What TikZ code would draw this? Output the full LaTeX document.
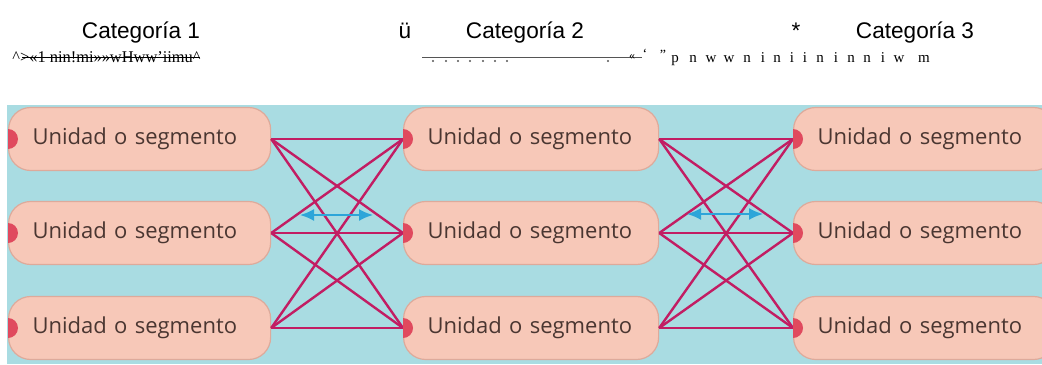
\documentclass[tikz,border=0pt]{standalone}
\usepackage{fontspec}
\setmainfont{Liberation Serif}
\newfontfamily\headfont{Liberation Sans}
\newfontfamily\unitfont{Open Sans}
\usetikzlibrary{arrows.meta}
\definecolor{skyblue}{HTML}{A9DCE2}
\definecolor{salmon}{HTML}{F7C8B8}
\definecolor{salmonedge}{HTML}{DDAA9B}
\definecolor{cocoa}{HTML}{4A3631}
\definecolor{berry}{HTML}{C21D63}
\definecolor{markred}{HTML}{E04A5E}
\definecolor{swapblue}{HTML}{2DA5D9}
\definecolor{inkgrey}{HTML}{555555}

\begin{document}
\begin{tikzpicture}[x=0.5pt, y=-0.5pt,
    unit/.style={fill=salmon, draw=salmonedge, line width=0.6pt,
      rounded corners=11pt, minimum height=31.5pt, inner xsep=12pt,
      align=left, anchor=west, text=cocoa,
      font=\unitfont\fontsize{11}{13}\selectfont},
    link/.style={draw=berry, line width=1.2pt},
    swap/.style={draw=swapblue, line width=1pt,
      {Latex[length=7pt,width=6pt]}-{Latex[length=7pt,width=6pt]}},
    head/.style={anchor=base, font=\headfont\fontsize{11.3}{13}\selectfont}]
  \useasboundingbox (0,0) rectangle (1042,364);
  % headings
  \node[head] (h1) at (141,38) {Categoría 1};
  \node[head] (hu) at (405,38) {ü};
  \node[head] (h2) at (525,38) {Categoría 2};
  \node[head] (hs) at (796,38) {*};
  \node[head] (h3) at (915,38) {Categoría 3};
  % second line of the heading
  \node[anchor=base west, inner sep=0pt, font=\fontsize{8.2}{9}\selectfont]
    (g1) at (12,62) {\textasciicircum>«1 nin!mi»»wHww’iimu\textasciicircum};
  \draw[line width=0.5pt] (22,57) -- (200,57);
  \draw[inkgrey, line width=0.6pt] (422,57.5) -- (642,57.5);
  \foreach \px in {433,446,458,470,483,495,507,608}
    \fill[inkgrey] (\px,61) circle[radius=0.6pt];
  \node[inner sep=0pt, font=\fontsize{6}{7}\selectfont] (g2) at (632,57) {«};
  \node[inner sep=0pt, font=\fontsize{7}{8}\selectfont] (g3) at (645,54) {‘};
  \node[inner sep=0pt, font=\fontsize{7}{8}\selectfont] (g4) at (663,55) {"};
  \foreach[count=\k] \ch/\px in {p/675,n/693,w/711,w/729,n/747,i/763,n/777,
      i/792,i/805,n/820,i/836,n/851,n/867,i/883,w/899,m/924}
    \node[anchor=base, inner sep=0pt, font=\fontsize{7.5}{9}\selectfont]
      (lt-\k) at (\px,62) {\ch};
  % background
  \fill[skyblue] (7,105) rectangle (1042,364);
  % boxes: column / left edge / text width
  \begin{scope}
    \clip (7,105) rectangle (1042,364);
    \foreach \c/\x/\w in {1/8/107pt, 2/403/103.5pt, 3/793/107pt}
      \foreach[count=\r] \y in {139,233,328}
        \node[unit, text width=\w] (u-\c-\r) at (\x,\y) {Unidad o segmento};
  \end{scope}
  % every box of one column to every box of the next
  \foreach \c/\d in {1/2, 2/3}
    \foreach \i in {1,2,3}
      \foreach \j in {1,2,3}
        \draw[link] (u-\c-\i.east) -- (u-\d-\j.west);
  % red marks on the left edges
  \foreach \c in {1,2,3}
    \foreach \r in {1,2,3}
      \fill[markred] ([yshift=5pt]u-\c-\r.west)
        arc[start angle=90, end angle=-90, radius=5pt];
  % blue double arrows
  \coordinate (s1a) at (300,215);
  \coordinate (s1b) at (373,215);
  \coordinate (s2a) at (687,214);
  \coordinate (s2b) at (763,214);
  \draw[swap] (s1a) -- (s1b);
  \draw[swap] (s2a) -- (s2b);
\end{tikzpicture}
\end{document}
